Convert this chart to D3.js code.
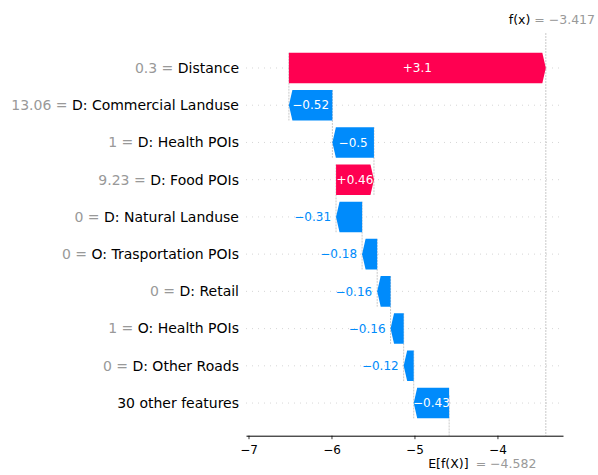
<!DOCTYPE html>
<html>
<head>
<meta charset="utf-8">
<script src="https://cdn.jsdelivr.net/npm/d3@7"></script>
<style>
  html, body { margin: 0; padding: 0; background: #fff; }
  svg { display: block; font-family: "DejaVu Sans", sans-serif; }
</style>
</head>
<body>
<svg id="chart" width="598" height="475"></svg>
<script>
// ---- data ----
const featureNames = ["Distance", "D: Commercial Landuse", "D: Health POIs", "D: Food POIs",
  "D: Natural Landuse", "O: Trasportation POIs", "D: Retail", "O: Health POIs",
  "D: Other Roads", "30 other features"];
const featureValues = ["0.3", "13.06", "1", "9.23", "0", "0", "0", "1", "0", ""];
const shapValues = [3.096, -0.524, -0.501, 0.457, -0.314, -0.182, -0.161, -0.158, -0.121, -0.427];
const baseValue = -4.582;
const fxValue = -3.417;
const xTicks = [-7, -6, -5, -4];

// ---- styles ----
const RED = "#FF0051", BLUE = "#008BFB", GREY = "#999999";
const svg = d3.select("#chart");

const x = d3.scaleLinear().domain([-7.03, -3.21]).range([246, 563]);
const y = d3.scaleLinear().domain([-0.94, 9.877]).range([33, 435.7]);
const step = y(1) - y(0);
const barH = 0.82 * step;
const n = featureNames.length;

// cumulative positions: from bottom (base) upward
const bars = new Array(n);
let cur = baseValue;
for (let i = n - 1; i >= 0; i--) {
  const v = shapValues[i];
  bars[i] = { i, v, start: cur, end: cur + v };
  cur += v;
}

const fmtBar = v => {
  let s = d3.format("+.2f")(v);
  s = s.replace(/0+$/, "").replace(/\.$/, "");
  return s.replace("-", "\u2212");
};
const fmt3 = v => d3.format(".3f")(v).replace("-", "\u2212");

const gBack = svg.append("g");
// horizontal dotted row lines
gBack.selectAll("line.row").data(bars).join("line")
  .attr("x1", x.range()[0]).attr("x2", x.range()[1])
  .attr("y1", d => y(d.i)).attr("y2", d => y(d.i))
  .attr("stroke", "#cccccc").attr("stroke-width", 0.8).attr("stroke-dasharray", "1,5");

// vertical connectors
gBack.selectAll("line.conn").data(bars.slice(0, n - 1)).join("line")
  .attr("x1", d => x(d.start)).attr("x2", d => x(d.start))
  .attr("y1", d => y(d.i) - barH / 2).attr("y2", d => y(d.i + 1) + barH / 2)
  .attr("stroke", "#bbbbbb").attr("stroke-width", 0.8).attr("stroke-dasharray", "2,1");

// f(x) full-height line and E[f(X)] short line
gBack.append("line")
  .attr("x1", x(fxValue)).attr("x2", x(fxValue))
  .attr("y1", y.range()[0]).attr("y2", y.range()[1])
  .attr("stroke", "#bbbbbb").attr("stroke-width", 0.8).attr("stroke-dasharray", "2,1");
const axH = y.range()[1] - y.range()[0];
gBack.append("line")
  .attr("x1", x(baseValue)).attr("x2", x(baseValue))
  .attr("y1", y.range()[1] - axH / n).attr("y2", y.range()[1])
  .attr("stroke", "#bbbbbb").attr("stroke-width", 0.8).attr("stroke-dasharray", "2,1");

// bars (arrows)
const arrowPath = d => {
  const x0 = x(d.start), x1 = x(d.end);
  const yc = y(d.i), t = yc - barH / 2, b = yc + barH / 2;
  const dir = x1 >= x0 ? 1 : -1;
  const hl = Math.min(3.5, Math.abs(x1 - x0));
  return `M${x0},${t}L${x1 - dir * hl},${t}L${x1},${yc}L${x1 - dir * hl},${b}L${x0},${b}Z`;
};
svg.append("g").selectAll("path").data(bars).join("path")
  .attr("d", arrowPath)
  .attr("fill", d => d.v >= 0 ? RED : BLUE);

// bar labels
const gLab = svg.append("g").attr("font-size", 12);
bars.forEach(d => {
  const x0 = x(d.start), x1 = x(d.end);
  const w = Math.abs(x1 - x0);
  const t = gLab.append("text")
    .attr("x", (x0 + x1) / 2).attr("y", y(d.i))
    .attr("dy", "0.35em").attr("text-anchor", "middle")
    .attr("fill", "#FFFFFF").text(fmtBar(d.v));
  const tw = t.node().getComputedTextLength();
  if (tw > w + 4) {
    const col = d.v >= 0 ? RED : BLUE;
    if (d.v >= 0) t.attr("x", x1 + 5).attr("text-anchor", "start");
    else t.attr("x", x1 - 5).attr("text-anchor", "end");
    t.attr("fill", col);
  }
});

// y labels
const gY = svg.append("g").attr("font-size", 14);
bars.forEach(d => {
  const t = gY.append("text")
    .attr("x", x.range()[0] - 7).attr("y", y(d.i)).attr("dy", "0.35em")
    .attr("text-anchor", "end");
  if (featureValues[d.i] !== "") {
    t.append("tspan").attr("fill", GREY).text(featureValues[d.i] + " = ");
  }
  t.append("tspan").attr("fill", "#000").text(featureNames[d.i]);
});

// x axis
const axis = d3.axisBottom(x).tickValues(xTicks).tickSize(3.5).tickSizeOuter(0).tickPadding(6)
  .tickFormat(d3.format("d"));
const gx = svg.append("g").attr("transform", `translate(0,${y.range()[1]})`).call(axis);
gx.select(".domain").attr("stroke", "#000").attr("stroke-width", 1);
gx.selectAll(".tick line").attr("stroke", "#000").attr("stroke-width", 0.8);
gx.selectAll(".tick text").attr("font-size", 12).attr("font-family", "DejaVu Sans").attr("fill", "#000");

// E[f(X)] label
const gE = svg.append("g").attr("font-size", 12.5);
gE.append("text").attr("x", x(baseValue) - 21).attr("y", 468)
  .attr("fill", "#000").text("E[f(X)]");
gE.append("text").attr("x", x(baseValue) + 26.5).attr("y", 468)
  .attr("fill", GREY).text("= " + fmt3(baseValue));

// f(x) label
gE.append("text").attr("x", x(fxValue) - 15.5).attr("y", 23.5)
  .attr("text-anchor", "end").attr("fill", "#000").text("f(x)");
gE.append("text").attr("x", x(fxValue) - 11.5).attr("y", 23.5)
  .attr("fill", GREY).text("= " + fmt3(fxValue));
</script>
</body>
</html>
